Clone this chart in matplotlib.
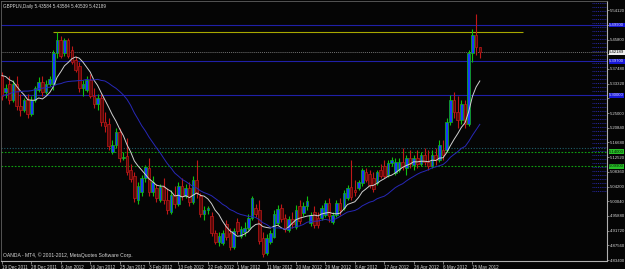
import matplotlib
matplotlib.use("Agg")
import matplotlib.pyplot as plt
import numpy as np
import pandas as pd

# GBPPLN daily bars, 19 Dec 2011 .. 17 May 2012
opens = [5.355, 5.309, 5.332, 5.287, 5.332, 5.270, 5.259, 5.287, 5.247, 5.287,
         5.315, 5.338, 5.309, 5.332, 5.332, 5.420, 5.457, 5.420, 5.457, 5.428,
         5.400, 5.383, 5.321, 5.315, 5.343, 5.298, 5.275, 5.292, 5.225, 5.219,
         5.140, 5.160, 5.196, 5.123, 5.128, 5.089, 5.072, 5.004, 5.026, 5.066,
         5.094, 5.026, 5.038, 5.004, 5.041, 5.004, 4.970, 5.018, 4.993, 5.043,
         5.015, 5.038, 4.998, 5.060, 5.015, 4.964, 4.976, 4.959, 4.910, 4.885,
         4.882, 4.936, 4.910, 4.871, 4.942, 4.902, 4.913, 4.925, 4.953, 4.981,
         4.976, 4.896, 4.854, 4.885, 4.899, 4.939, 4.981, 4.953, 4.919, 4.950,
         4.927, 4.987, 4.967, 4.987, 4.939, 4.970, 4.953, 4.953, 4.961, 4.995,
         4.942, 4.961, 4.995, 4.981, 5.009, 5.041, 5.032, 5.038, 5.052, 5.083,
         5.077, 5.066, 5.052, 5.089, 5.100, 5.075, 5.108, 5.080, 5.089, 5.111,
         5.094, 5.123, 5.103, 5.123, 5.106, 5.131, 5.111, 5.100, 5.131, 5.117,
         5.145, 5.145, 5.225, 5.287, 5.253, 5.230, 5.275, 5.219, 5.420, 5.471,
         5.43584]
highs = [5.366, 5.332, 5.355, 5.343, 5.355, 5.304, 5.292, 5.304, 5.298, 5.326,
         5.352, 5.355, 5.343, 5.355, 5.428, 5.479, 5.468, 5.462, 5.462, 5.440,
         5.411, 5.394, 5.343, 5.355, 5.360, 5.321, 5.304, 5.304, 5.253, 5.236,
         5.174, 5.208, 5.208, 5.140, 5.179, 5.106, 5.083, 5.055, 5.075, 5.103,
         5.123, 5.072, 5.049, 5.049, 5.066, 5.038, 5.032, 5.043, 5.055, 5.066,
         5.049, 5.055, 5.072, 5.117, 5.024, 4.987, 4.987, 4.970, 4.919, 4.913,
         4.919, 4.947, 4.925, 4.925, 4.953, 4.930, 4.942, 4.964, 5.015, 4.993,
         5.004, 4.913, 4.908, 4.919, 4.976, 4.990, 4.993, 4.964, 4.959, 4.970,
         4.990, 5.004, 4.998, 5.015, 4.970, 4.987, 4.970, 4.990, 5.004, 5.009,
         4.970, 5.004, 5.009, 5.032, 5.046, 5.117, 5.060, 5.060, 5.094, 5.094,
         5.089, 5.083, 5.089, 5.106, 5.117, 5.117, 5.125, 5.123, 5.123, 5.151,
         5.131, 5.145, 5.131, 5.145, 5.140, 5.151, 5.145, 5.145, 5.151, 5.174,
         5.174, 5.236, 5.301, 5.309, 5.298, 5.287, 5.287, 5.428, 5.488, 5.530,
         5.43584]
lows = [5.287, 5.292, 5.275, 5.281, 5.259, 5.242, 5.253, 5.236, 5.242, 5.281,
        5.309, 5.298, 5.304, 5.326, 5.315, 5.406, 5.406, 5.411, 5.406, 5.389,
        5.366, 5.309, 5.298, 5.309, 5.292, 5.264, 5.259, 5.213, 5.196, 5.145,
        5.134, 5.151, 5.111, 5.117, 5.075, 5.055, 4.998, 4.993, 5.015, 5.055,
        5.015, 5.015, 4.998, 4.998, 4.993, 4.964, 4.964, 4.981, 4.987, 5.004,
        5.009, 4.987, 4.993, 5.009, 4.956, 4.947, 4.964, 4.902, 4.879, 4.874,
        4.877, 4.891, 4.862, 4.865, 4.908, 4.896, 4.902, 4.919, 4.947, 4.956,
        4.879, 4.842, 4.848, 4.879, 4.896, 4.933, 4.942, 4.913, 4.913, 4.925,
        4.922, 4.936, 4.959, 4.976, 4.930, 4.925, 4.925, 4.947, 4.956, 4.942,
        4.936, 4.956, 4.961, 4.976, 5.004, 5.004, 5.015, 5.032, 5.043, 5.055,
        5.038, 5.026, 5.046, 5.066, 5.066, 5.069, 5.100, 5.075, 5.083, 5.089,
        5.075, 5.094, 5.089, 5.094, 5.100, 5.103, 5.089, 5.094, 5.103, 5.111,
        5.117, 5.140, 5.216, 5.236, 5.208, 5.219, 5.208, 5.213, 5.394, 5.414,
        5.40539]
closes = [5.298, 5.321, 5.287, 5.332, 5.270, 5.259, 5.287, 5.247, 5.287, 5.321,
          5.338, 5.309, 5.332, 5.346, 5.420, 5.457, 5.411, 5.457, 5.411, 5.394,
          5.372, 5.321, 5.332, 5.343, 5.298, 5.275, 5.292, 5.225, 5.213, 5.157,
          5.160, 5.196, 5.123, 5.125, 5.083, 5.063, 5.009, 5.043, 5.066, 5.097,
          5.026, 5.055, 5.009, 5.041, 5.004, 4.976, 5.018, 4.993, 5.043, 5.015,
          5.038, 4.998, 5.060, 5.024, 4.964, 4.976, 4.981, 4.910, 4.885, 4.902,
          4.910, 4.899, 4.871, 4.916, 4.916, 4.922, 4.925, 4.953, 5.009, 4.964,
          4.888, 4.851, 4.896, 4.910, 4.964, 4.978, 4.950, 4.922, 4.950, 4.936,
          4.976, 4.944, 4.987, 5.001, 4.961, 4.933, 4.933, 4.981, 4.995, 4.959,
          4.961, 4.995, 4.976, 5.024, 5.038, 5.012, 5.026, 5.055, 5.089, 5.060,
          5.046, 5.035, 5.083, 5.072, 5.072, 5.108, 5.117, 5.111, 5.111, 5.097,
          5.123, 5.106, 5.123, 5.106, 5.131, 5.111, 5.100, 5.131, 5.117, 5.160,
          5.131, 5.225, 5.287, 5.253, 5.230, 5.275, 5.219, 5.420, 5.471, 5.436,
          5.42189]
# closes of the bars just left of the window, only used to seed the averages
prior_closes = [5.236, 5.244, 5.230, 5.253, 5.242, 5.259, 5.247, 5.264, 5.253, 5.275,
                5.287, 5.301, 5.321, 5.343, 5.360, 5.372, 5.377, 5.366, 5.372, 5.360]

date_labels = ["19 Dec 2011", "28 Dec 2011", "6 Jan 2012", "16 Jan 2012", "25 Jan 2012",
               "3 Feb 2012", "13 Feb 2012", "22 Feb 2012", "1 Mar 2012", "11 Mar 2012",
               "20 Mar 2012", "29 Mar 2012", "8 Apr 2012", "17 Apr 2012", "26 Apr 2012",
               "6 May 2012", "15 May 2012"]
bars_per_label = 8
price_ticks = [4.83400, 4.87560, 4.91720, 4.95880, 5.00040, 5.04200, 5.08360, 5.12520,
               5.16680, 5.20840, 5.25000, 5.29160, 5.33320, 5.37480, 5.41640, 5.45800,
               5.49960, 5.54120]

blue_levels = [5.4990, 5.3970, 5.3000]
green_levels = [5.1400, 5.0990]
teal_level = 5.1510
resist_level = 5.4792
resist_from_bar = 14
resist_to_bar = 141.8
last_price = 5.42189

BG = "#050505"
FG = "#d8d8d8"
AXC = "#b0b0b0"
FONT = "Liberation Sans"
FS = 3.6
FS_DATE = 3.3
FS_SCALE = 3.1

n = len(closes)
idx = np.arange(n)

fig = plt.figure(figsize=(6.25, 2.69), dpi=100, facecolor=BG)
ax = fig.add_axes([1 / 625, 8 / 269, 606 / 625, 260 / 269])
ax.set_facecolor(BG)
ax.set_xlim(-0.27, 164.6)
ax.set_ylim(4.8312, 5.5670)

# moving averages (white fast, navy slow)
full = pd.Series(prior_closes + closes)
ma_fast = full.rolling(8).mean().to_numpy()[len(prior_closes):]
ma_slow = full.rolling(21).mean().to_numpy()[len(prior_closes):]

# horizontal levels
for lv in blue_levels:
    ax.axhline(lv, color="#2020a8", lw=0.8, zorder=1)
ax.axhline(teal_level, color="#1f5f6a", lw=0.8, ls=(0, (1, 1.5)), zorder=1)
for lv in green_levels:
    ax.axhline(lv, color="#10a010", lw=0.8, ls=(0, (1.5, 1.5)), zorder=1)
ax.hlines(resist_level, resist_from_bar, resist_to_bar, color="#a8a800", lw=0.8, zorder=1)
ax.axhline(last_price, color="#707070", lw=0.7, ls=(0, (1, 1)), zorder=1)

# right side profile of short dashed lines
prof_levels = np.arange(5.030, 5.562, 0.0113)
ax.hlines(prof_levels, 160.6, 164.6, color="#2a2ab0", lw=0.6, ls=(0, (1.2, 1.0)), zorder=1)

# candles
o = np.array(opens)
c = np.array(closes)
up = c >= o
for i in range(n):
    col = "#10c010" if up[i] else "#c01818"
    ax.vlines(i, lows[i], highs[i], color=col, lw=0.8, zorder=3)
body_lo = np.minimum(o, c)
body_h = np.maximum(np.abs(c - o), 0.0015)
ax.bar(idx[up], body_h[up], bottom=body_lo[up], width=0.72, color="#1838ff",
       edgecolor="#10c010", lw=0.5, zorder=4)
ax.bar(idx[~up], body_h[~up], bottom=body_lo[~up], width=0.72, color="#5a0808",
       edgecolor="#c01818", lw=0.5, zorder=4)

ax.plot(idx, ma_fast, color="#d0d0d0", lw=0.7, zorder=5)
ax.plot(idx, ma_slow, color="#2828b8", lw=0.7, zorder=5)

# axes frame
for s in ["left", "top"]:
    ax.spines[s].set_color("#606060")
    ax.spines[s].set_linewidth(0.6)
for s in ["right", "bottom"]:
    ax.spines[s].set_color(AXC)
    ax.spines[s].set_linewidth(0.8)

# scale labels hidden under the highlighted boxes are left blank, as in MT4
highlight = blue_levels + green_levels + [last_price]
tick_text = []
for v in price_ticks:
    hidden = any(abs(v - h) < 0.012 for h in highlight)
    tick_text.append("" if hidden else f"{v:.5f}")
ax.set_yticks(price_ticks)
ax.set_yticklabels(tick_text, family=FONT)
ax.yaxis.tick_right()
ax.tick_params(axis="y", colors=AXC, labelcolor=FG, labelsize=FS_SCALE, length=1.5,
               width=0.5, pad=0.6)

ax.set_xticks(idx[::bars_per_label])
ax.set_xticklabels(date_labels, ha="left", family=FONT)
ax.tick_params(axis="x", colors=AXC, labelcolor=FG, labelsize=FS_DATE, length=2, width=0.5, pad=0.8)

# highlighted price labels on the scale
def scale_label(v, fc, tc):
    ax.text(1.0035, v, f"{v:.5f}", transform=ax.get_yaxis_transform(), fontsize=FS_SCALE,
            family=FONT, color=tc, va="center", ha="left", zorder=10, clip_on=False,
            bbox=dict(boxstyle="square,pad=0.1", fc=fc, ec="none"))

for lv in blue_levels:
    scale_label(lv, "#1818d8", "#e0e0ff")
for lv in green_levels:
    scale_label(lv, "#28c028", "#002000")
scale_label(last_price, "#f0f0f0", "#000000")

ax.text(0.004, 0.988, "GBPPLN,Daily 5.43584 5.43584 5.40539 5.42189", transform=ax.transAxes,
        fontsize=FS_DATE, family=FONT, color=FG, va="top", ha="left")
ax.text(0.003, 0.012, "OANDA - MT4, \u00a9 2001-2012, MetaQuotes Software Corp.",
        transform=ax.transAxes, fontsize=FS, family=FONT, color=FG, va="bottom", ha="left")

fig.savefig("out.png", dpi=100, facecolor=BG)
